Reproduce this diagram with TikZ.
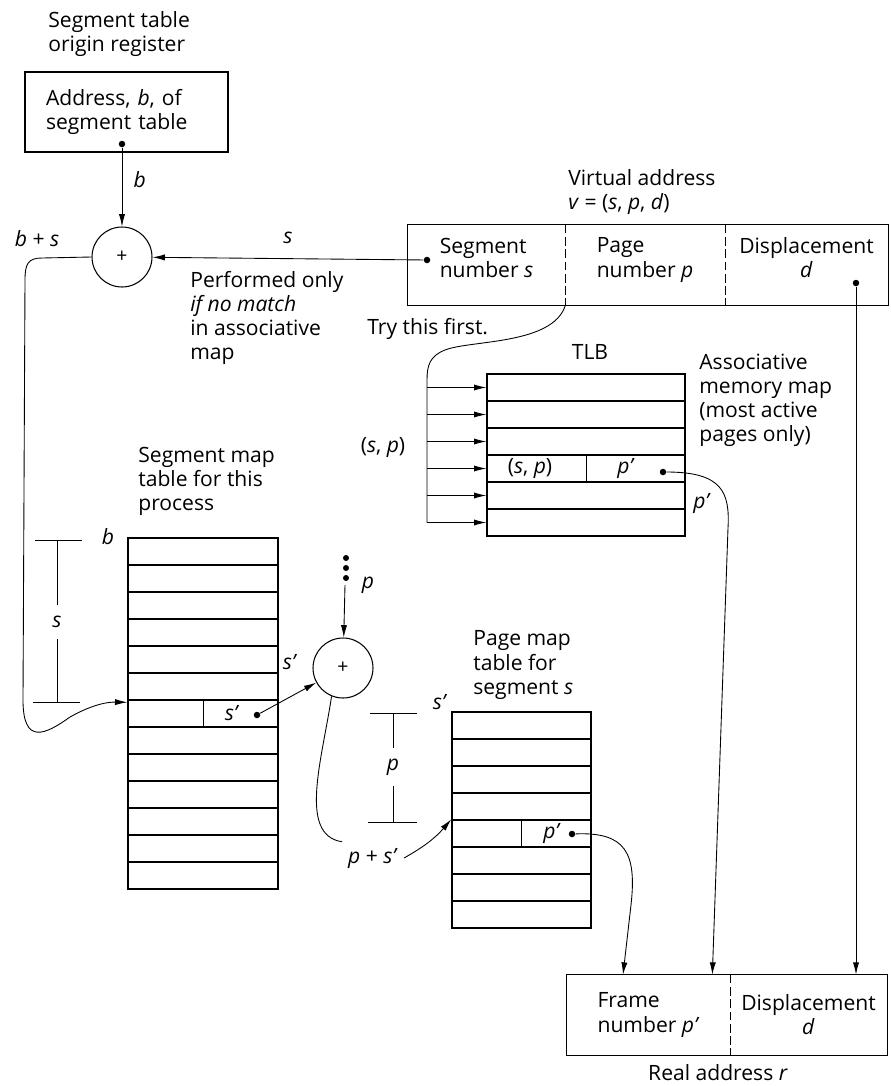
\documentclass[tikz,border=0pt]{standalone}
\usepackage{fontspec}
\setmainfont{Open Sans}
\usetikzlibrary{arrows.meta}
\begin{document}
\begin{tikzpicture}[x=0.02cm, y=-0.02cm, font=\fontsize{12}{13.7}\selectfont,
    box/.style={draw, line width=0.8pt},
    tablerow/.style={draw, line width=0.8pt, minimum height=0.54cm, inner sep=0pt},
    vacell/.style={minimum height=1.6cm, inner sep=0pt, align=left},
    adder/.style={draw, circle, line width=0.6pt, minimum size=1.2cm, inner sep=0pt, font=\fontsize{11}{12}\selectfont},
    blob/.style={circle, fill, inner sep=0pt, minimum size=0.13cm},
    arr/.style={-{Latex[length=7pt,width=3.5pt]}, line width=0.5pt},
    divider/.style={dash pattern=on 5pt off 2pt, line width=0.5pt},
    dimline/.style={line width=0.5pt},
    dimlabel/.style={inner xsep=2pt, inner ysep=6pt},
    lbl/.style={align=left, inner sep=0pt}]
\useasboundingbox (0,0) rectangle (891,1086);

\node[lbl, anchor=west] (regtitle) at (48,34) {Segment table\\origin register};
\node[box, minimum width=4.06cm, minimum height=1.6cm, text width=3.22cm, inner xsep=0.42cm, inner ysep=0pt, align=left] (reg) at (126.5,112) {Address, \textit{b}, of\\segment table};
\node[blob] (regdot) at (122,144) {};
\node[adder] (add1) at (122,257) {+};
\node (bslabel) at (37,239) {\textit{b} + \textit{s}};
\draw[arr] (regdot) -- (add1) node[pos=0.4, right=3pt] {\textit{b}};

\node[lbl, anchor=west] (valabel) at (568,192) {Virtual address\\\textit{v} = (\textit{s}, \textit{p}, \textit{d})};
\node[vacell, text depth=0.3cm, minimum width=3.14cm] (vaseg) at (486.5,265) {Segment\\number \textit{s}};
\node[vacell, text depth=0.3cm, minimum width=3.2cm] (vapage) at (645,265) {Page\\number \textit{p}};
\node[vacell, text depth=0.3cm, minimum width=3.26cm, align=center] (vadisp) at (806.5,265) {Displacement\\\textit{d}};
\draw[box] (vaseg.north west) rectangle (vadisp.south east);
\draw[divider] (vaseg.north east) -- (vaseg.south east);
\draw[divider] (vapage.north east) -- (vapage.south east);
\node[blob] (segdot) at (427,260) {};
\node[blob] (dispdot) at (856,283) {};
\draw[arr] (segdot) -- (add1) node[midway, above=5pt] {\textit{s}};
\node[lbl, anchor=north west] (perf) at (190,271) {Performed only\\\textit{if no match}\\in associative\\map};

\node[lbl, anchor=west] (segtitle) at (138,481) {Segment map\\table for this\\process};
\foreach \i in {1,...,13}
  \node[tablerow, minimum width=3cm] (seg\i) at (203,{538+27*(\i-0.5)}) {};
\draw[dimline] (seg7.north) -- (seg7.south);
\node (segsp) at (232,713) {\textit{s'}};
\node[blob] (segspdot) at (257,715) {};
\node (segb) at (108,537) {\textit{b}};
\draw[arr] (add1.west) -- (42,258) .. controls (28,258) and (25,264) .. (25,280) -- (23,700)
  .. controls (23,745) and (45,735) .. (70,717) .. controls (95,703) and (110,702) .. ([yshift=-0.06cm]seg7.north west);

\node[dimlabel] (dims) at (57,622) {\textit{s}};
\coordinate (stop) at (57,540);
\coordinate (sbot) at (57,702);
\draw[dimline] (35,540) -- (82,540) (33,702) -- (80,702);
\draw[dimline] (dims) -- (stop) (dims) -- (sbot);

\node[adder] (add2) at (343,668) {+};
\foreach \y in {558,568,578}
  \fill (346,\y) circle (0.06cm);
\coordinate (pin) at (345,585);
\draw[arr] (pin) -- (add2) node[pos=0, right=6pt] {\textit{p}};
\node (sp1) at (290,662) {\textit{s'}};
\draw[arr] (segspdot) -- (add2);
\node (pslabel) at (373,858) {\textit{p} + \textit{s'}};
\draw[line width=0.5pt] (add2.-112) .. controls (322,760) and (298,835) .. (pslabel.north west);

\node[dimlabel] (dimp) at (393,767) {\textit{p}};
\coordinate (ptop) at (393,713);
\coordinate (pbot) at (393,822);
\draw[dimline] (370,713) -- (417,713) (368,822) -- (417,822);
\draw[dimline] (dimp) -- (ptop) (dimp) -- (pbot);
\node (pmsp) at (440,702) {\textit{s'}};

\node[lbl, anchor=west] (pmtitle) at (473,665) {Page map\\table for\\segment \textit{s}};
\foreach \i in {1,...,8}
  \node[tablerow, minimum width=2.78cm] (pm\i) at (521.5,{712+27*(\i-0.5)}) {};
\draw[dimline] (pm5.north) -- (pm5.south);
\node (pmp) at (552,833) {\textit{p'}};
\node[blob] (pmdot) at (572,834) {};
\draw[arr] (pslabel.east) to[bend right=10] (pm5.north west);

\node (tlbtitle) at (590,352) {TLB};
\foreach \i in {1,...,6}
  \node[tablerow, minimum width=3.96cm] (tlb\i) at (586,{374+27*(\i-0.5)}) {};
\draw[dimline] (tlb4.north) -- (tlb4.south);
\node (tlbsp) at (530,468) {(\textit{s}, \textit{p})};
\node (tlbp) at (626,468) {\textit{p'}};
\node[blob] (tlbdot) at (663,472) {};
\node[lbl, anchor=west] (assoc) at (699,400) {Associative\\memory map\\(most active\\pages only)};
\node (tlbp2) at (702,503) {\textit{p'}};
\node (splabel) at (383,447) {(\textit{s}, \textit{p})};
\node[lbl, anchor=west] (trylabel) at (367,329) {Try this first.};

\coordinate (trunk) at (427,380);
\draw[line width=0.5pt] (vaseg.south east) .. controls (553,345) and (470,340) .. (445,350)
  .. controls (430,356) and (427,365) .. (trunk) -- (trunk |- tlb6.west);
\foreach \i in {1,...,6}
  \draw[arr] (trunk |- tlb\i.west) -- (tlb\i.west);

\node[vacell, minimum width=3.26cm] (raframe) at (648.5,1015) {Frame\\number \textit{p'}};
\node[vacell, minimum width=3.14cm, align=center] (radisp) at (808.5,1015) {Displacement\\\textit{d}};
\draw[box] (raframe.north west) rectangle (radisp.south east);
\draw[divider] (raframe.north east) -- (raframe.south east);
\node (ralabel) at (718,1073) {Real address \textit{r}};

\draw[arr] (pmdot) .. controls (625,832) and (637,852) .. (631,905) -- ([xshift=-0.51cm]raframe.north);
\draw[arr] (tlbdot) .. controls (722,472) and (730,492) .. (728,528) -- ([xshift=-0.36cm]raframe.north east);
\draw[arr] (dispdot) -- (dispdot |- radisp.north);
\end{tikzpicture}
\end{document}
